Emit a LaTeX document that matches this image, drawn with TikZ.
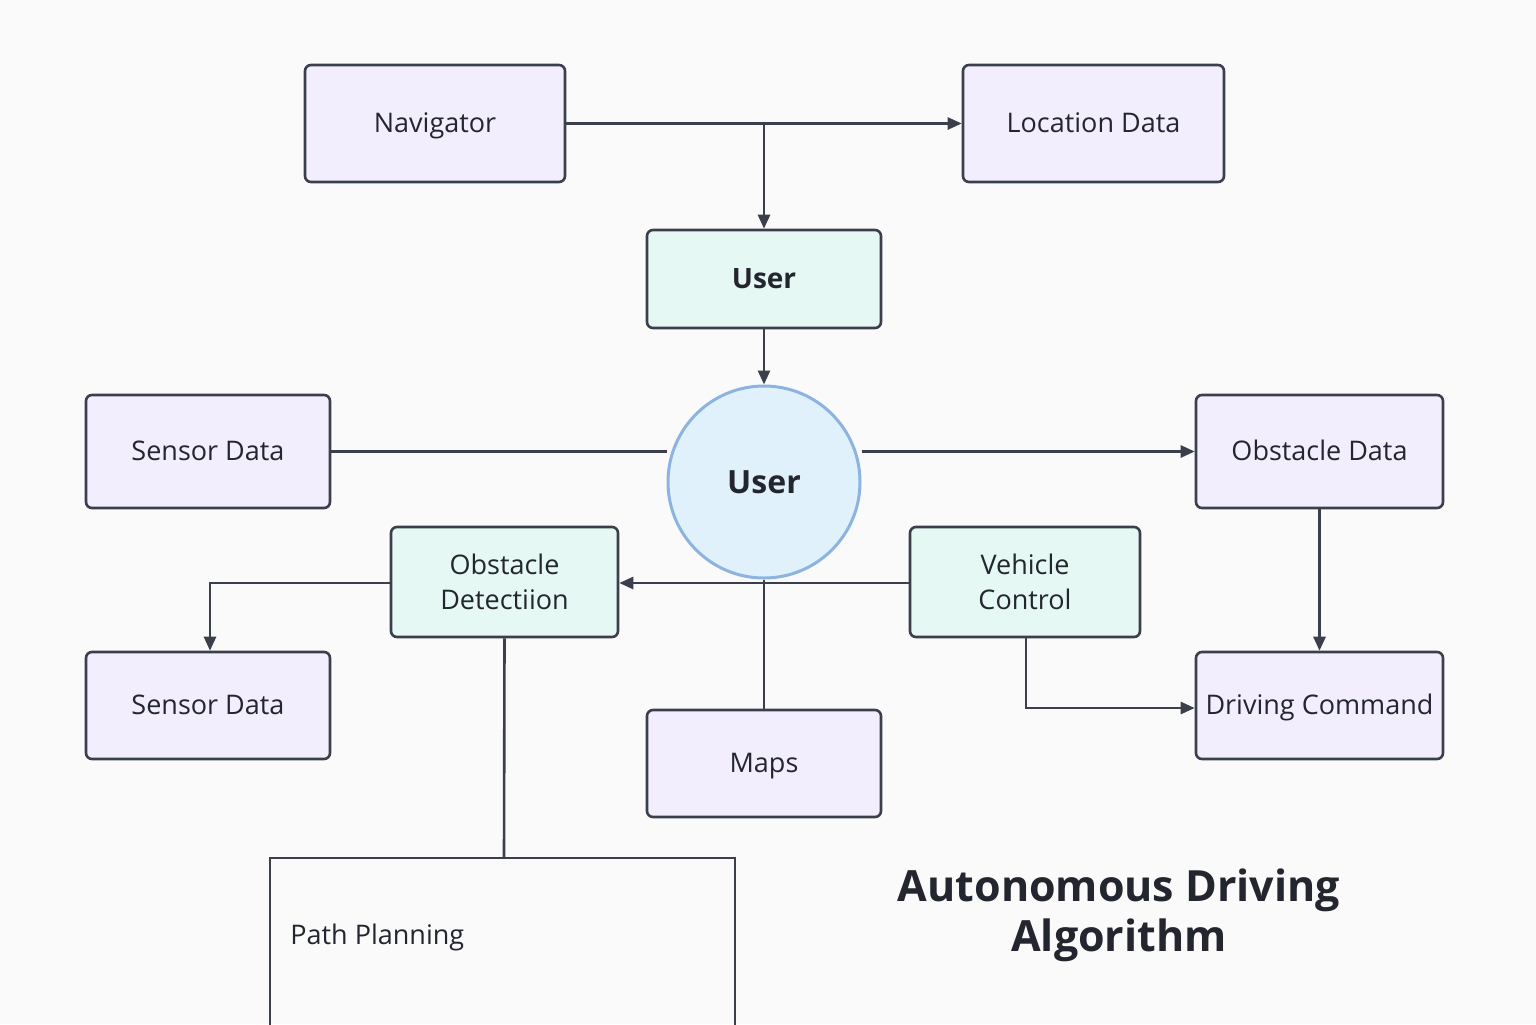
\documentclass[tikz,border=0pt]{standalone}
\usepackage{fontspec}
\setmainfont{Open Sans}
\usetikzlibrary{arrows.meta,positioning}
\definecolor{bg}{HTML}{FAFAFB}
\definecolor{edge}{HTML}{3A3F4B}
\definecolor{lav}{HTML}{F3EEFD}
\definecolor{mint}{HTML}{E5F8F4}
\definecolor{cfill}{HTML}{E1F1FB}
\definecolor{cdraw}{HTML}{8DB4E0}
\definecolor{txt}{HTML}{23262E}
\tikzset{
  box/.style={draw=edge, line width=1.3pt, rounded corners=3pt, inner sep=0pt, text=txt,
    font=\fontsize{13.5}{17.5}\selectfont, align=center},
  one/.style={text height=0.93em, text depth=0em},
  lavbox/.style={box, fill=lav, one},
  mintbox/.style={box, fill=mint},
  conn/.style={draw=edge, line width=1.3pt},
  arr/.style={conn, -{Triangle[length=7pt,width=6pt]}},
}
\begin{document}
\begin{tikzpicture}[x=0.5pt,y=-0.5pt]
\fill[bg] (0,0) rectangle (1536,1024);
\useasboundingbox (0,0) rectangle (1536,1024);

\node[lavbox, minimum width=130pt, minimum height=58.5pt] (nav) at (435,123.5) {Navigator};
\node[lavbox, minimum width=130.5pt, minimum height=58.5pt] (loc) at (1093.5,123.5) {Location Data};
\node[mintbox, one, minimum width=117pt, minimum height=49pt, font=\fontsize{14}{19}\selectfont\bfseries] (user) at (764,279) {User};
\node[circle, draw=cdraw, fill=cfill, line width=1.5pt, minimum size=96pt, inner sep=0pt, text=txt,
  font=\fontsize{16}{19}\selectfont\bfseries] (circ) at (764,482) {User};
\node[lavbox, minimum width=122pt, minimum height=56.5pt] (sens1) at (208,451.5) {Sensor Data};
\node[lavbox, minimum width=123.5pt, minimum height=56.5pt] (obsd) at (1319.5,451.5) {Obstacle Data};
\node[mintbox, minimum width=113.5pt, minimum height=55pt] (odet) at (504.5,582) {Obstacle\\Detectiion};
\node[mintbox, minimum width=115pt, minimum height=55pt] (vc) at (1025,582) {Vehicle\\Control};
\node[lavbox, minimum width=122pt, minimum height=53.5pt] (sens2) at (208,705.5) {Sensor Data};
\node[lavbox, minimum width=117pt, minimum height=53.5pt] (maps) at (764,763.5) {Maps};
\node[lavbox, minimum width=123.5pt, minimum height=53.5pt] (drive) at (1319.5,705.5) {Driving Command};

\draw[conn, fill=none] (270,1030) -- (270,858) -- (735,858) -- (735,1030);
\coordinate (pptop) at (504,858);
\node[anchor=base west, text=txt, font=\fontsize{13.5}{19}\selectfont, inner sep=0pt] (pp) at (290,944) {Path Planning};

\node[text=txt, font=\fontsize{21.5}{25}\selectfont\bfseries, align=center, inner sep=0pt] (title) at (1119,915) {Autonomous Driving\\Algorithm};

% connectors
\coordinate (j1) at (764,123.5);
\coordinate (sdj) at (210,583);
\coordinate (vcj) at (1026,708);
\draw[arr] (nav.east) -- (loc.west);
\draw[arr] (j1) -- (user.north);
\draw[arr] (user.south) -- (circ.north);
\draw[conn] (sens1.east) -- (sens1.east -| circ.west);
\draw[arr] (circ.east |- obsd.west) -- (obsd.west);
\draw[arr] (vc.west |- sdj) -- (odet.east |- sdj);
\draw[conn] (circ.south) -- (maps.north);
\draw[arr] (odet.west |- sdj) -- (sdj) -- (sdj |- sens2.north);
\draw[conn] (odet.south) -- (pptop);
\draw[arr] (obsd.south) -- (drive.north);
\draw[arr] (vc.south -| vcj) -- (vcj) -- (drive.west |- vcj);
\end{tikzpicture}
\end{document}
